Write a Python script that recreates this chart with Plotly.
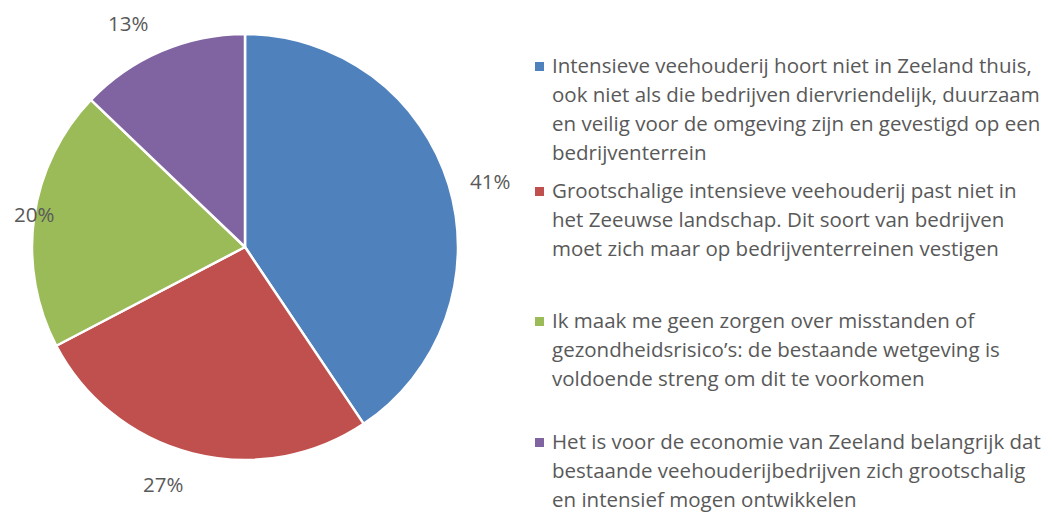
import plotly.graph_objects as go

W, H = 1052, 517

categories_lines = [
    ["Intensieve veehouderij hoort niet in Zeeland thuis,",
     "ook niet als die bedrijven diervriendelijk, duurzaam",
     "en veilig voor de omgeving zijn en gevestigd op een",
     "bedrijventerrein"],
    ["Grootschalige intensieve veehouderij past niet in",
     "het Zeeuwse landschap. Dit soort van bedrijven",
     "moet zich maar op bedrijventerreinen vestigen"],
    ["Ik maak me geen zorgen over misstanden of",
     "gezondheidsrisico’s: de bestaande wetgeving is",
     "voldoende streng om dit te voorkomen"],
    ["Het is voor de economie van Zeeland belangrijk dat",
     "bestaande veehouderijbedrijven zich grootschalig",
     "en intensief mogen ontwikkelen"],
]
categories = [" ".join(l) for l in categories_lines]
values = [41, 27, 20, 13]
colors = ["#4F81BD", "#C0504D", "#9BBB59", "#8064A2"]

# layout helpers (pixel -> paper)
def px(x):
    return x / W

def py(y):
    return 1 - y / H

cx, cy, r = 245, 247, 213
label_pos = [(490, 181), (163, 484), (34, 214), (128, 23)]
legend_first_y = [65, 190, 320, 441]
line_gap = 29
text_x = 550
font_family = "'Open Sans', Lato, sans-serif"
txt_color = "#595959"
fsize = 20.5

fig = go.Figure(go.Pie(
    labels=categories,
    values=values,
    sort=False,
    direction="clockwise",
    rotation=0,
    marker=dict(colors=colors, line=dict(color="white", width=2.5)),
    textinfo="none",
    hoverinfo="label+percent",
    domain=dict(x=[px(cx - r), px(cx + r)], y=[py(cy + r), py(cy - r)]),
    showlegend=False,
))

annotations = []
for v, (lx, ly) in zip(values, label_pos):
    annotations.append(dict(
        x=px(lx), y=py(ly), xref="paper", yref="paper",
        text=f"{v}%", showarrow=False, xanchor="center", yanchor="middle",
        font=dict(family=font_family, size=fsize, color=txt_color)))

shapes = []
for lines, y0, col in zip(categories_lines, legend_first_y, colors):
    for i, line in enumerate(lines):
        annotations.append(dict(
            x=px(text_x), y=py(y0 + i * line_gap), xref="paper", yref="paper",
            text=line, showarrow=False, xanchor="left", yanchor="middle",
            font=dict(family=font_family, size=fsize, color=txt_color)))
    shapes.append(dict(
        type="rect", xref="paper", yref="paper",
        x0=px(535), x1=px(544), y0=py(y0 + 6), y1=py(y0 - 3),
        fillcolor=col, line=dict(width=0)))

fig.update_layout(
    width=W, height=H,
    margin=dict(l=0, r=0, t=0, b=0),
    paper_bgcolor="white",
    plot_bgcolor="white",
    annotations=annotations,
    shapes=shapes,
)

fig.write_html(
    "out.html",
    config={"displayModeBar": False},
    post_script="document.body.style.margin='0';document.body.style.overflow='hidden';",
)
